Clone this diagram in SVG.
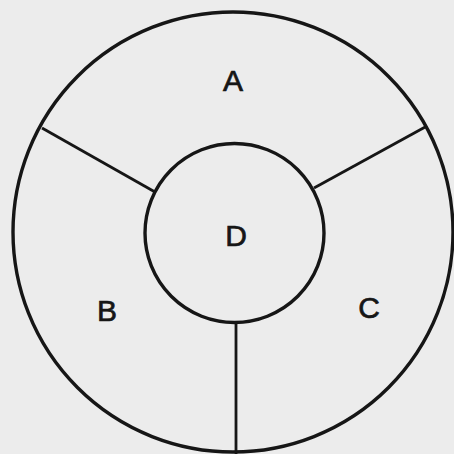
<svg xmlns="http://www.w3.org/2000/svg" width="454" height="454" viewBox="0 0 454 454">
<style>
.ring{fill:none;stroke:#161616;stroke-width:3.4}
.div{stroke:#161616;stroke-width:2.8;fill:none}
.lbl{font-family:"Liberation Sans",Arial,sans-serif;font-size:30px;fill:#161616;stroke:#161616;stroke-width:0.7;text-anchor:middle}
</style>
<rect width="454" height="454" fill="#ececec"/>
<g id="connectors">
<line class="div" x1="42" y1="128" x2="155" y2="192"/>
<line class="div" x1="427" y1="126" x2="314" y2="188"/>
<line class="div" x1="236" y1="323" x2="236" y2="454"/>
</g>
<g id="outer">
<circle class="ring" cx="233" cy="232" r="220"/>
</g>
<g id="A"><text class="lbl" x="233" y="91">A</text></g>
<g id="B"><text class="lbl" x="107" y="321">B</text></g>
<g id="C"><text class="lbl" x="369" y="318">C</text></g>
<g id="D">
<circle class="ring" cx="234.5" cy="233" r="89.5"/>
<text class="lbl" x="236" y="246">D</text>
</g>
</svg>
